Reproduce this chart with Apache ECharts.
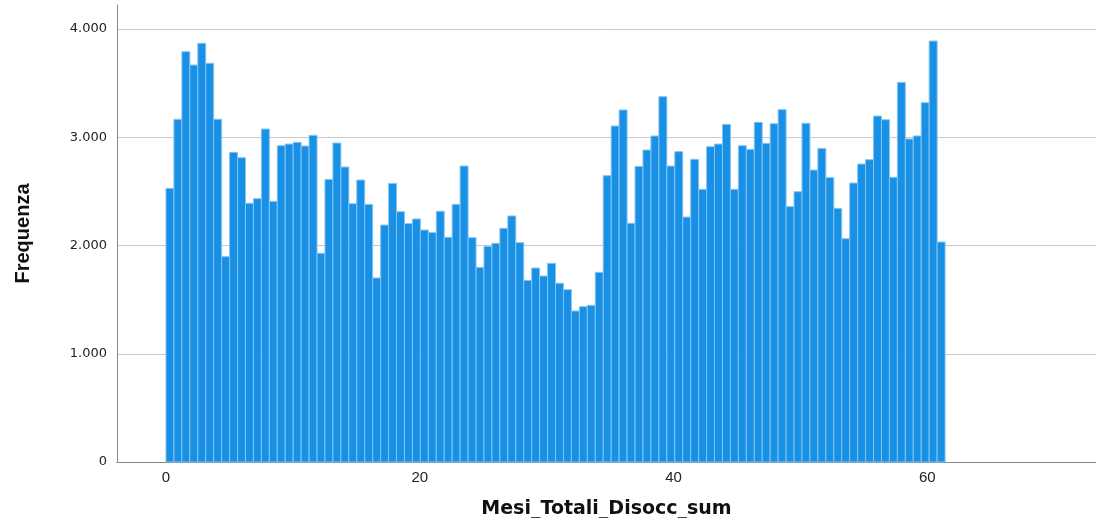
<!DOCTYPE html>
<html lang="it">
<head>
    <meta charset="UTF-8">
    <title>Istogramma Mesi_Totali_Disocc_sum</title>
    <script src="https://cdn.jsdelivr.net/npm/echarts@6/dist/echarts.min.js"></script>
    <style>
        html, body { margin: 0; padding: 0; background: #fff; }
        #main { width: 1096px; height: 518px; }
    </style>
</head>
<body>
<div id="main"></div>
<script>
    // frequenze per classe (98 classi da 0 a ~61.4)
    var counts = [2528, 3166, 3790, 3667, 3868, 3683, 3166, 1897, 2861, 2811,
        2390, 2433, 3076, 2408, 2922, 2937, 2953, 2919, 3018, 1928,
        2611, 2947, 2725, 2386, 2605, 2380, 1700, 2189, 2574, 2312,
        2202, 2245, 2143, 2119, 2316, 2076, 2380, 2734, 2072, 1798,
        1992, 2020, 2159, 2273, 2026, 1678, 1792, 1718, 1835, 1651,
        1592, 1395, 1435, 1447, 1752, 2645, 3104, 3252, 2205, 2731,
        2882, 3012, 3375, 2734, 2867, 2263, 2796, 2519, 2913, 2937,
        3119, 2519, 2922, 2888, 3138, 2944, 3125, 3255, 2359, 2497,
        3129, 2697, 2897, 2627, 2343, 2063, 2577, 2753, 2793, 3196,
        3162, 2630, 3507, 2984, 3012, 3319, 3889, 2032];
    var binStart = 0;
    var binWidth = 0.6265;
    var xTicks = [0, 20, 40, 60];
    var yTicks = [0, 1000, 2000, 3000, 4000];

    var data = counts.map(function (c, i) {
        return [binStart + i * binWidth, binStart + (i + 1) * binWidth, c];
    });

    function fmt(v) {
        return String(v).replace(/\B(?=(\d{3})+(?!\d))/g, '.');
    }

    var option = {
        animation: false,
        grid: { left: 117, right: 0, top: 5, bottom: 56, containLabel: false, outerBoundsMode: 'none' },
        xAxis: {
            type: 'value',
            min: -3.86,
            max: 73.29,
            name: 'Mesi_Totali_Disocc_sum',
            nameLocation: 'middle',
            nameGap: 38,
            nameTextStyle: { fontFamily: 'DejaVu Sans', fontWeight: 'bold', fontSize: 19, color: '#111' },
            axisLine: { show: true, onZero: false, lineStyle: { color: '#888', width: 1 } },
            axisTick: { show: false },
            splitLine: { show: false },
            axisLabel: {
                customValues: xTicks,
                fontFamily: 'Liberation Sans Narrow, Liberation Sans',
                fontSize: 15,
                color: '#222',
                margin: 8
            }
        },
        yAxis: {
            type: 'value',
            min: 0,
            max: 4222,
            interval: 1000,
            name: 'Frequenza',
            nameLocation: 'middle',
            nameGap: 84,
            nameRotate: 90,
            nameTextStyle: { fontFamily: 'Liberation Sans Narrow, Liberation Sans', fontWeight: 'bold', fontSize: 20, color: '#111' },
            axisLine: { show: true, onZero: false, lineStyle: { color: '#888', width: 1 } },
            axisTick: { show: false },
            splitLine: {
                show: true,
                lineStyle: { color: ['#c8c8c8', '#c8c8c8', '#c8c8c8', '#c8c8c8', '#c8c8c8', 'rgba(0,0,0,0)'], width: 1 }
            },
            axisLabel: {
                fontFamily: 'DejaVu Sans',
                fontSize: 13,
                color: '#222',
                margin: 10,
                formatter: function (v) {
                    return yTicks.indexOf(v) >= 0 ? fmt(v) : '';
                }
            }
        },
        series: [{
            type: 'custom',
            data: data,
            encode: { x: [0, 1], y: 2 },
            renderItem: function (params, api) {
                var p0 = api.coord([api.value(0), api.value(2)]);
                var p1 = api.coord([api.value(1), 0]);
                return {
                    type: 'rect',
                    shape: { x: p0[0], y: p0[1], width: p1[0] - p0[0], height: p1[1] - p0[1] },
                    style: { fill: '#1790e5', stroke: '#86c3f0', lineWidth: 1 }
                };
            }
        }]
    };

    var myChart = echarts.init(document.getElementById('main'));
    myChart.setOption(option);
</script>
</body>
</html>
